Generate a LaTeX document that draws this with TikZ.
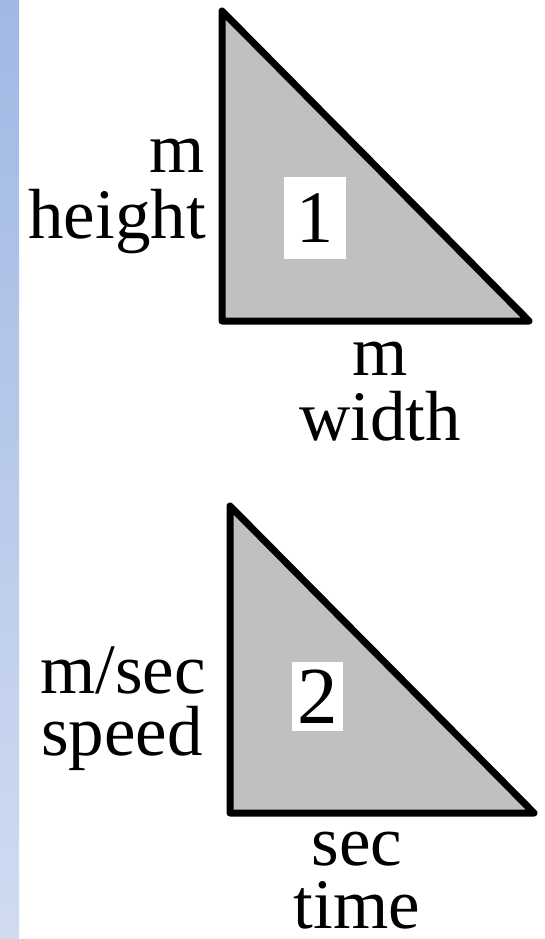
\documentclass[tikz,border=0pt]{standalone}
\usepackage{fontspec}
\setmainfont{Liberation Serif}
\newfontfamily\tnr{Liberation Serif}
\definecolor{bartop}{RGB}{160,184,228}
\definecolor{barbot}{RGB}{208,219,241}
\definecolor{trifill}{RGB}{192,192,192}
\begin{document}
\begin{tikzpicture}[x=1pt,y=-1pt,
  tri/.style={draw=black,fill=trifill,line width=7pt,line join=round},
  lbl/.style={inner sep=0pt,font=\tnr\fontsize{71}{66}\selectfont},
  numbox/.style={fill=white,inner sep=0pt}]
\useasboundingbox (0,0) rectangle (544,939);
\shade[top color=bartop,bottom color=barbot] (0,0) rectangle (19,939);
% triangle 1
\coordinate (t1a) at (222,11);
\coordinate (t1b) at (222,321);
\coordinate (t1c) at (529,321);
\draw[tri] (t1a) -- (t1b) -- (t1c) -- cycle;
\node[numbox,minimum width=62pt,minimum height=82pt,font=\tnr\fontsize{74}{74}\selectfont] (n1) at (315,218) {1};
% triangle 2
\coordinate (t2a) at (230,506);
\coordinate (t2b) at (230,813);
\coordinate (t2c) at (534,813);
\draw[tri] (t2a) -- (t2b) -- (t2c) -- cycle;
\node[numbox,minimum width=51pt,minimum height=69pt,font=\tnr\fontsize{81}{81}\selectfont] (n2) at (317.5,696.5) {2};
% labels triangle 1
\node[lbl,anchor=base east] (h1) at (205,172) {m};
\node[lbl,anchor=base east] (h2) at (206,238) {height};
\node[lbl,anchor=base] (w1) at (380,375) {m};
\node[lbl,anchor=base] (w2) at (380,440) {width};
% labels triangle 2
\node[lbl,anchor=base east] (s1) at (206,693) {m/sec};
\node[lbl,anchor=base east] (s2) at (203,755) {speed};
\node[lbl,anchor=base] (tm1) at (357,865) {sec};
\node[lbl,anchor=base] (tm2) at (357,928) {time};
\end{tikzpicture}
\end{document}
